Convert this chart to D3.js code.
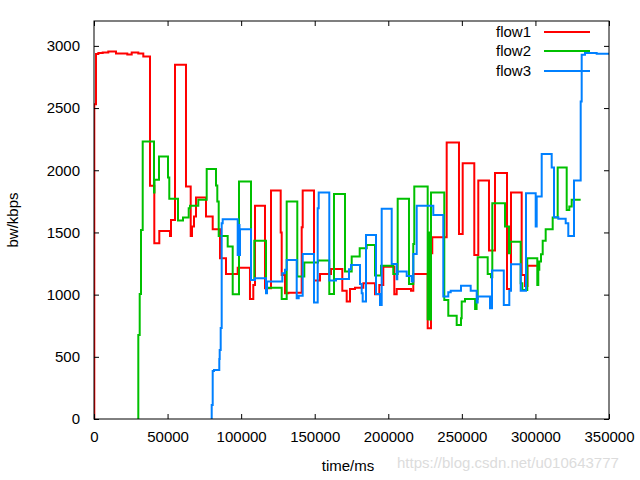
<!DOCTYPE html>
<html>
<head>
<meta charset="utf-8">
<script src="https://cdn.jsdelivr.net/npm/d3@7"></script>
<style>
  body { margin: 0; background: #fff; }
  svg { display: block; }
  text { font-family: "Liberation Sans", Arial, sans-serif; }
</style>
</head>
<body>
<svg id="chart" width="640" height="480"></svg>
<script>
// ---- data (time in ms, bandwidth in kbps) ----
const seriesNames = ["flow1", "flow2", "flow3"];
const xTicks = [0, 50000, 100000, 150000, 200000, 250000, 300000, 350000];
const yTicks = [0, 500, 1000, 1500, 2000, 2500, 3000];

const flow1 = [
  [0, 0], [200, 2530], [1360, 2934], [2950, 2942], [5900, 2947], [9720, 2955],
  [14950, 2939], [22630, 2931], [25620, 2947], [30100, 2939], [33500, 2915],
  [38060, 1875], [40980, 1413], [44380, 1512], [51650, 1472], [52330, 1601],
  [55050, 2848], [62520, 1869], [65720, 1472], [66600, 1547], [67960, 1628],
  [69320, 1780], [76120, 1628], [80670, 1526], [85630, 1293], [89710, 1166],
  [97660, 1217], [106000, 965], [108260, 1078], [109420, 1714], [116210, 1051],
  [120290, 1837], [126880, 1499], [127560, 1158], [129800, 1011], [132050, 1016],
  [141150, 1542], [141830, 1837], [149510, 1113], [153590, 1166], [161070, 1207],
  [168750, 1032], [171740, 944], [173980, 1046], [177380, 1056], [183020, 1091],
  [190970, 1003], [193890, 1078], [196610, 1225], [204090, 1003], [205720, 1046],
  [215430, 1032], [217000, 1166], [226780, 730], [229020, 1333], [229900, 1462],
  [239690, 2223], [248050, 1488], [250570, 2057], [258450, 1319], [261170, 1917],
  [268440, 1354], [272520, 1977], [280680, 1046], [283400, 1821], [290660, 1158],
  [292900, 1070], [294600, 1233], [301270, 1233]
];

const flow2 = [
  [29500, 0], [30110, 676], [31060, 1006], [31940, 1520], [33100, 2231],
  [40780, 1821], [41120, 1923], [44170, 2110], [50290, 1941], [51170, 1770],
  [57090, 1595], [60480, 1620], [64360, 1695], [65240, 1714], [70880, 1762],
  [76590, 2011], [82910, 1877], [83800, 1748], [84750, 1472], [90860, 1386],
  [94260, 1003], [98540, 1909], [106700, 1118], [108940, 1434], [116890, 1056],
  [127560, 965], [130960, 1748], [138160, 1145], [142920, 1258], [152230, 1274],
  [159910, 1006], [163100, 1810], [170580, 1185], [175130, 1306], [180570, 1373],
  [185330, 1400], [190970, 1153], [195050, 1233], [203400, 1166], [206390, 1770],
  [214070, 1086], [216990, 1408], [217670, 1869], [226780, 802], [227400, 1500],
  [227900, 800], [229020, 1821], [238060, 957], [240780, 831], [246490, 756],
  [249410, 810], [249890, 944], [252130, 965], [259000, 885], [260000, 965],
  [260760, 1301], [267560, 1166], [269800, 1140], [270690, 1735], [279320, 1547],
  [282030, 1333], [282710, 1426], [289980, 1091], [291070, 1038], [294470, 1293],
  [301270, 1078], [301950, 1199], [302630, 1266], [303780, 1325], [304940, 1434],
  [306970, 1526], [311730, 1620], [315130, 2022], [321250, 1681], [323020, 1708],
  [324650, 1762], [330750, 1762]
];

const flow3 = [
  [79500, 0], [79990, 113], [80670, 386], [81550, 394], [85150, 483],
  [85420, 555], [86100, 732], [86780, 1574], [87460, 1607], [97660, 1319],
  [98400, 1560], [98900, 1319], [99220, 1526], [106700, 1118], [109420, 1131],
  [116890, 1011], [117570, 1105], [127970, 1172], [129800, 1200], [130960, 1279],
  [137760, 971], [139120, 990], [141830, 1327], [149510, 936], [152030, 1695],
  [152710, 1821], [159910, 1113], [164460, 1126], [173300, 1204], [174660, 1239],
  [180770, 1086], [181930, 1011], [182610, 944], [184850, 1480], [191650, 1006],
  [194370, 917], [195520, 1690], [202320, 1247], [205720, 1124], [206120, 1185],
  [212510, 1150], [215910, 1105], [217000, 1327], [219310, 1714], [230590, 1641],
  [237380, 984], [240780, 1019], [242420, 1032], [249410, 1072], [256000, 1032],
  [260080, 936], [260760, 984], [269120, 891], [270480, 1193], [278500, 917],
  [282240, 1032], [283400, 1245], [289980, 1032], [293590, 1815], [300180, 1547],
  [300860, 1789], [304260, 2130], [311050, 2022], [312620, 1622], [315540, 1611],
  [320570, 1574], [322340, 1472], [326210, 1917], [330760, 2553], [331440, 2928],
  [333680, 2942], [341630, 2936], [350000, 2936]
];

const seriesData = [flow1, flow2, flow3];
const seriesColors = ["#ff0000", "#00c000", "#0080ff"];

// ---- layout ----
const svg = d3.select("#chart");
const plotLeft = 94, plotRight = 609, plotTop = 21, plotBottom = 419;

const x = d3.scaleLinear().domain([0, 350000]).range([plotLeft, plotRight]);
const y = d3.scaleLinear().domain([0, 3200]).range([plotBottom, plotTop]);

svg.append("defs").append("clipPath").attr("id", "plotclip")
  .append("rect").attr("x", plotLeft).attr("y", plotTop)
  .attr("width", plotRight - plotLeft).attr("height", plotBottom - plotTop);

// lines
const line = d3.line()
  .x(d => x(d[0])).y(d => y(d[1]))
  .curve(d3.curveStepAfter);

const g = svg.append("g").attr("clip-path", "url(#plotclip)");
seriesData.forEach((data, i) => {
  g.append("path")
    .datum(data)
    .attr("fill", "none")
    .attr("stroke", seriesColors[i])
    .attr("stroke-width", 2)
    .attr("d", line);
});

// frame
svg.append("rect")
  .attr("x", plotLeft).attr("y", plotTop)
  .attr("width", plotRight - plotLeft).attr("height", plotBottom - plotTop)
  .attr("fill", "none").attr("stroke", "#000").attr("stroke-width", 1);

// axes with inward, mirrored ticks
const tickLen = 5;
const axisBottom = d3.axisBottom(x).tickValues(xTicks).tickSize(-tickLen).tickPadding(12).tickFormat(d3.format("d"));
const axisTop = d3.axisTop(x).tickValues(xTicks).tickSize(-tickLen).tickFormat("");
const axisLeft = d3.axisLeft(y).tickValues(yTicks).tickSize(-tickLen).tickPadding(14).tickFormat(d3.format("d"));
const axisRight = d3.axisRight(y).tickValues(yTicks).tickSize(-tickLen).tickFormat("");

function styleAxis(sel) {
  sel.select(".domain").remove();
  sel.selectAll(".tick line").attr("stroke", "#000");
  sel.selectAll(".tick text").attr("fill", "#000")
    .style("font-size", "15px")
    .style("font-family", "'Liberation Sans', Arial, sans-serif");
}

svg.append("g").attr("transform", `translate(0,${plotBottom})`).call(axisBottom).call(styleAxis);
svg.append("g").attr("transform", `translate(0,${plotTop})`).call(axisTop).call(styleAxis);
svg.append("g").attr("transform", `translate(${plotLeft},0)`).call(axisLeft).call(styleAxis);
svg.append("g").attr("transform", `translate(${plotRight},0)`).call(axisRight).call(styleAxis);

// axis labels
svg.append("text")
  .attr("transform", "translate(18,220) rotate(-90)")
  .attr("text-anchor", "middle")
  .style("font-size", "15px")
  .text("bw/kbps");

svg.append("text")
  .attr("x", 348).attr("y", 471)
  .attr("text-anchor", "middle")
  .style("font-size", "15px")
  .text("time/ms");

// legend
const legendY = [32, 51, 71];
seriesNames.forEach((name, i) => {
  svg.append("text")
    .attr("x", 531).attr("y", legendY[i] + 5)
    .attr("text-anchor", "end")
    .style("font-size", "15px")
    .text(name);
  svg.append("line")
    .attr("x1", 544).attr("x2", 590)
    .attr("y1", legendY[i]).attr("y2", legendY[i])
    .attr("stroke", seriesColors[i]).attr("stroke-width", 2);
});

// watermark
svg.append("text")
  .attr("x", 397).attr("y", 468)
  .style("font-size", "15px")
  .attr("fill", "#dcdcdc")
  .text("https://blog.csdn.net/u010643777");
</script>
</body>
</html>
